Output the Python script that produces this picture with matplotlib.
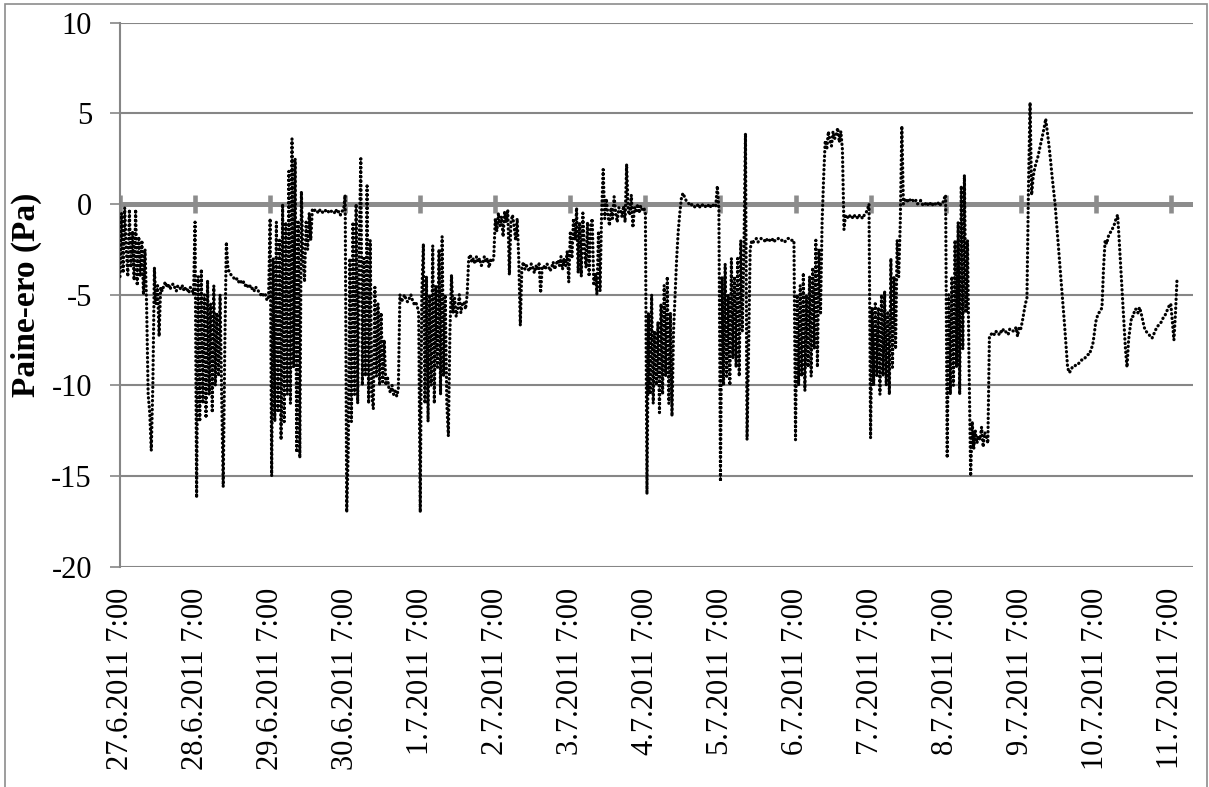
import numpy as np
import matplotlib
matplotlib.use('Agg')
import matplotlib.pyplot as plt
from matplotlib.patches import Rectangle

GRID_COLOR = '#868686'
AXIS_COLOR = '#8c8c8c'

plt.rcParams['font.family'] = ['Liberation Serif', 'DejaVu Serif']
plt.rcParams['axes.unicode_minus'] = False

# pressure difference (Pa) every 30 min, one list per day starting at 7:00
d27_6 = [-4.0, -0.5, -3.8, -0.2, -2.5, -4.0, -0.3, -3.5, -1.5, -4.2, -0.3, -4.5,
         -1.8, -4.0, -2.0, -5.0, -2.5, -5.5, -10.5, -11.5, -13.6, -10.0, -3.5, -5.5,
         -4.5, -7.3, -4.6, -4.8, -4.5, -4.3, -4.6, -4.4, -4.7, -4.5, -4.4, -4.6,
         -4.8, -4.5, -4.6, -4.7, -4.5, -4.8, -4.6, -4.7, -4.9, -4.6, -4.7, -5.0]
d28_6 = [-1.0, -16.2, -4.0, -12.0, -3.6, -11.0, -5.0, -11.8, -4.2, -10.5, -5.5, -11.5,
         -4.5, -10.0, -6.0, -9.5, -5.0, -10.5, -15.6, -8.0, -2.1, -3.5, -3.8, -3.9,
         -4.0, -4.1, -4.2, -4.1, -4.3, -4.2, -4.4, -4.3, -4.5, -4.4, -4.6, -4.5,
         -4.7, -4.6, -4.8, -4.6, -4.7, -4.9, -5.0, -4.9, -5.1, -5.0, -5.3, -5.2]
d29_6 = [-0.8, -15.0, -3.0, -12.0, -1.0, -11.5, -2.0, -13.0, 0.0, -12.0, -1.0, -10.5,
         1.8, -11.0, 3.6, -9.0, 2.5, -13.7, -1.0, -14.0, 0.7, -3.0, -4.3, -1.0,
         -2.5, -0.5, -2.0, -0.3, -0.4, -0.3, -0.4, -0.5, -0.3, -0.4, -0.5, -0.4,
         -0.3, -0.4, -0.5, -0.4, -0.4, -0.5, -0.3, -0.5, -0.4, -0.6, -0.4, -0.3]
d30_6 = [0.5, -17.0, -13.5, -3.0, -12.0, -1.0, -10.5, 0.0, -11.0, -2.0, 2.5, -10.0,
         -3.0, -9.5, 1.0, -11.0, -2.0, -10.5, -11.3, -4.6, -9.5, -5.5, -10.0, -6.0,
         -9.8, -7.5, -10.0, -9.5, -10.2, -10.4, -10.0, -10.5, -10.3, -10.6, -10.2, -5.0,
         -5.4, -5.2, -5.0, -5.3, -5.4, -5.2, -5.0, -5.3, -5.5, -5.4, -5.6, -6.0]
d1_7 = [-17.0, -5.0, -2.2, -11.0, -4.0, -12.0, -5.0, -10.0, -2.3, -11.0, -4.5, -9.0,
        -2.5, -10.5, -1.8, -9.5, -5.0, -11.0, -12.8, -7.0, -3.9, -6.0, -5.2, -6.2,
        -5.8, -5.0, -6.0, -5.5, -5.4, -5.8, -5.0, -3.0, -2.8, -3.2, -3.0, -3.3,
        -2.9, -3.2, -3.0, -3.4, -3.3, -2.9, -3.2, -3.0, -3.5, -3.1, -3.2, -3.0]
d2_7 = [-0.8, -1.5, -0.5, -1.2, -0.7, -1.8, -0.4, -1.0, -0.3, -3.9, -1.0, -0.6,
        -1.2, -2.0, -0.8, -3.0, -6.7, -3.5, -3.2, -3.6, -3.4, -3.6, -3.7, -3.3,
        -3.5, -3.8, -3.4, -3.6, -3.3, -4.9, -3.5, -3.4, -3.6, -3.3, -3.4, -3.7,
        -3.5, -3.2, -3.6, -3.3, -3.1, -3.4, -2.9, -3.6, -3.0, -3.4, -2.6, -4.3]
d3_7 = [-1.5, -3.0, -0.8, -2.0, -0.2, -3.8, -1.0, -4.0, -0.5, -2.5, -3.5, -1.0,
        -4.0, -1.2, -0.8, -4.5, -3.8, -5.0, -1.5, -4.8, -0.5, 1.9, -0.8, 0.3,
        -0.6, -1.2, -0.2, -0.8, 0.4, -0.5, -1.0, -0.2, -0.3, -0.7, -0.1, -1.0,
        2.2, -0.4, -0.6, 0.5, -1.3, -0.2, -0.4, 0.0, -0.5, -0.1, -0.3, -0.2]
d4_7 = [-0.5, -16.0, -6.0, -10.5, -5.0, -11.0, -7.0, -10.0, -6.5, -11.5, -5.5, -10.5,
        -4.5, -9.5, -4.0, -11.0, -6.0, -11.7, -7.0, -5.0, -3.0, -1.5, -0.5, 0.3,
        0.6, 0.4, 0.2, 0.1, 0.0, -0.1, 0.0, -0.1, -0.2, -0.1, 0.0, -0.2,
        -0.1, 0.0, -0.1, -0.2, -0.1, 0.0, -0.2, -0.1, 0.0, -0.1, 1.0, -0.3]
d5_7 = [-15.3, -4.0, -10.0, -3.3, -9.5, -5.0, -10.0, -3.0, -8.5, -4.0, -9.0, -3.0,
        -9.5, -2.0, -7.0, -2.5, 3.9, -13.0, -8.0, -2.5, -2.0, -2.1, -2.0, -1.9,
        -2.1, -2.0, -1.9, -2.0, -2.0, -2.1, -1.9, -2.0, -2.0, -1.9, -2.1, -2.0,
        -2.0, -1.9, -1.9, -2.0, -2.0, -2.1, -2.0, -1.9, -1.9, -2.0, -2.0, -2.0]
d6_7 = [-13.0, -5.0, -10.0, -4.5, -9.5, -3.8, -10.3, -5.0, -9.0, -4.0, -9.5, -3.5,
        -8.0, -2.0, -9.0, -2.5, -6.0, -1.0, 1.5, 3.5, 3.0, 4.0, 3.5, 3.2,
        4.0, 3.6, 3.8, 4.2, 3.4, 4.0, 3.0, -1.4, -0.6, -0.7, -0.8, -0.6,
        -0.7, -0.8, -0.6, -0.7, -0.8, -0.6, -0.7, -0.8, -0.6, -0.5, -0.3, 0.0]
d7_7 = [-12.9, -5.7, -10.0, -5.5, -9.5, -5.7, -10.5, -5.0, -9.5, -4.8, -10.0, -6.0,
        -10.5, -3.0, -9.0, -4.0, -8.0, -2.0, -4.0, -1.0, 4.3, 0.0, 0.2, 0.3,
        0.1, 0.2, 0.3, 0.2, 0.1, 0.2, 0.0, 0.1, 0.2, 0.0, -0.1, 0.0,
        0.1, -0.1, 0.0, 0.1, -0.1, 0.0, 0.0, 0.1, -0.1, 0.0, 0.0, 0.3]
d8_7 = [0.5, -14.0, -5.0, -10.5, -4.0, -10.0, -2.0, -9.0, -1.0, -10.5, 1.0, -8.0,
        1.6, -6.0, -2.0, -9.0, -15.0, -12.0, -13.5, -12.5, -13.2, -12.8, -13.0, -12.3,
        -13.4, -12.6, -12.8, -13.2, -7.3, -7.2, -7.1, -7.2, -7.0, -7.1, -7.2, -7.0,
        -7.1, -6.9, -7.0, -7.1, -7.2, -6.9, -6.9, -7.0, -7.0, -6.8, -7.3, -6.8]
d9_7 = [-6.9, -6.5, -6.0, -5.5, -5.2, 1.0, 5.6, 0.5, 1.5, 2.0, 2.3, 2.6,
        3.0, 3.4, 3.8, 4.2, 4.7, 4.0, 3.3, 2.5, 1.6, 0.8, 0.0, -1.1,
        -2.2, -3.3, -4.4, -5.5, -6.6, -7.8, -9.0, -9.3, -9.2, -9.0, -9.0, -8.9,
        -8.9, -8.8, -8.7, -8.6, -8.6, -8.5, -8.4, -8.3, -8.3, -8.0, -7.8, -7.2]
d10_7 = [-6.5, -6.2, -6.0, -5.9, -5.7, -3.5, -2.0, -2.2, -1.8, -1.6, -1.5, -1.3,
         -1.1, -0.8, -0.6, -2.0, -3.5, -5.0, -6.5, -8.0, -9.0, -7.5, -6.8, -6.2,
         -6.2, -5.8, -5.8, -6.0, -5.7, -6.0, -6.4, -6.8, -7.0, -7.1, -7.2, -7.3,
         -7.4, -7.2, -7.0, -6.8, -6.7, -6.6, -6.5, -6.3, -6.2, -6.0, -5.8, -5.6]
d11_7 = [-5.5, -6.5, -7.5, -6.0, -4.1]

day_labels = ['27.6.2011 7:00', '28.6.2011 7:00', '29.6.2011 7:00', '30.6.2011 7:00',
              '1.7.2011 7:00', '2.7.2011 7:00', '3.7.2011 7:00', '4.7.2011 7:00',
              '5.7.2011 7:00', '6.7.2011 7:00', '7.7.2011 7:00', '8.7.2011 7:00',
              '9.7.2011 7:00', '10.7.2011 7:00', '11.7.2011 7:00']

values = np.array(d27_6 + d28_6 + d29_6 + d30_6 + d1_7 + d2_7 + d3_7 + d4_7 +
                  d5_7 + d6_7 + d7_7 + d8_7 + d9_7 + d10_7 + d11_7)
hours = np.arange(len(values)) * 0.5
day_hours = np.arange(len(day_labels)) * 24

fig = plt.figure(figsize=(12.09, 7.87), dpi=100)
fig.patches.append(Rectangle((5 / 1209, -0.05), 1202 / 1209, 1.05 - 4 / 787,
                             transform=fig.transFigure, fill=False,
                             edgecolor=AXIS_COLOR, linewidth=1.2))
ax = fig.add_axes([120 / 1209, (787 - 566.7) / 787, 1073 / 1209, 544 / 787])

ax.plot(hours, values, color='black', linewidth=2.3,
        linestyle=(0, (0.1, 1.3)), dash_capstyle='round', zorder=3)

# value axis crosses at zero: thick line with crossing tick marks
ax.axhline(0, color=AXIS_COLOR, linewidth=3.6, zorder=2)
ax.plot(day_hours, np.zeros(len(day_hours)), linestyle='none', marker='|',
        markersize=13, markeredgewidth=3.3, color=AXIS_COLOR, zorder=2)

ax.set_xlim(0, 343.1)
ax.set_ylim(-20, 10)
ax.set_yticks([-20, -15, -10, -5, 0, 5, 10])
ax.yaxis.grid(True, color=GRID_COLOR, linewidth=1.5, zorder=1)
ax.set_axisbelow(True)

ax.set_xticks(day_hours)
ax.set_xticklabels(day_labels, rotation=90, va='top', ha='center')
ax.tick_params(axis='x', length=0, pad=15, labelsize=22)
ax.tick_params(axis='y', length=7.2, width=1.2, color=GRID_COLOR, pad=13, labelsize=22)

for side in ['top', 'right', 'bottom']:
    ax.spines[side].set_visible(False)
ax.spines['left'].set_color(GRID_COLOR)
ax.spines['left'].set_linewidth(1.5)

ax.set_ylabel('Paine-ero (Pa)', fontsize=24, fontweight='bold')
ax.yaxis.set_label_coords(-0.0727, 0.5)

fig.savefig('out.png', dpi=100)
